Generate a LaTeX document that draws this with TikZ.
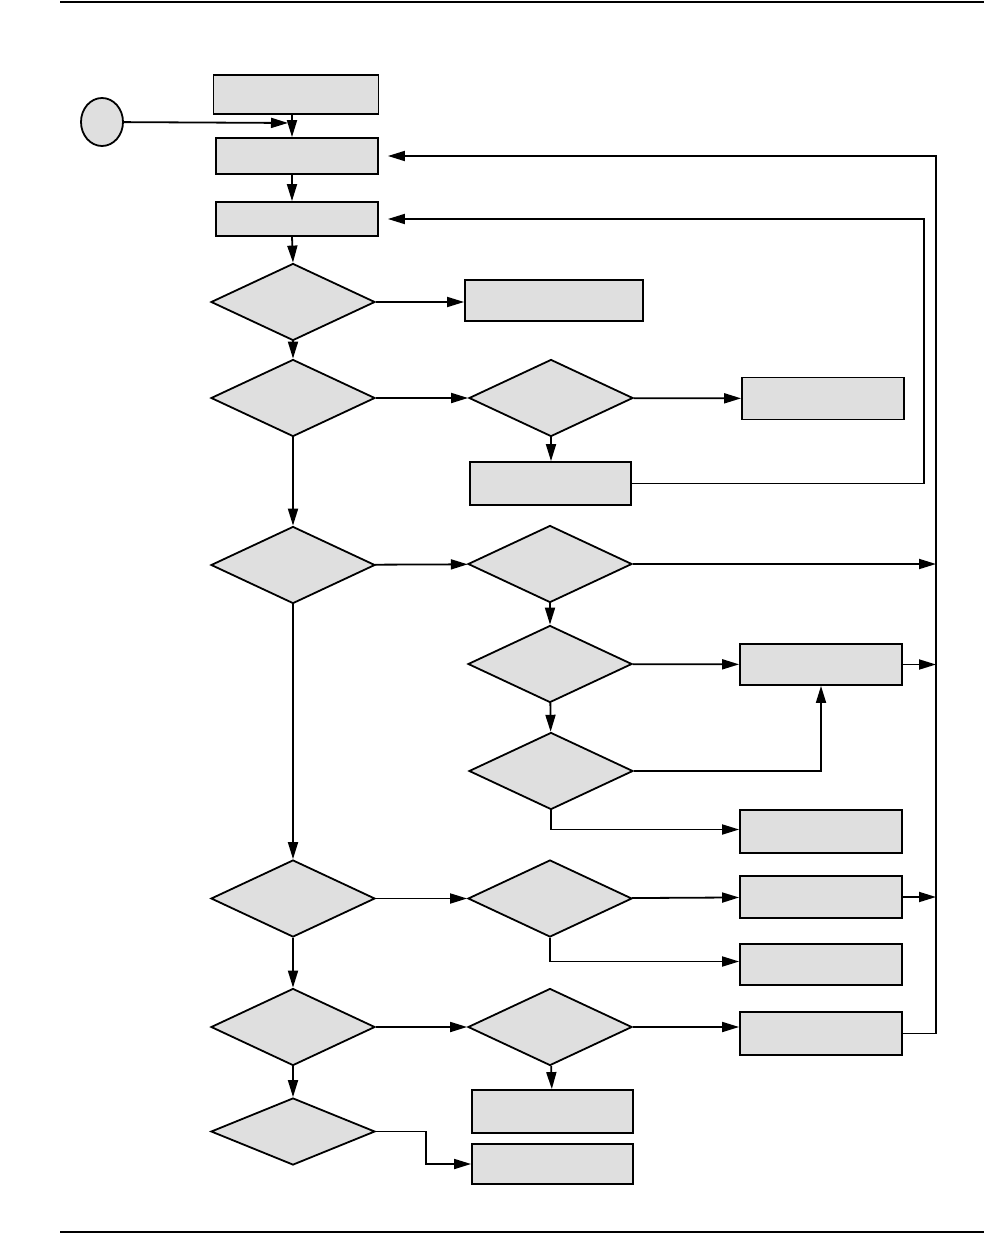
\documentclass[tikz,border=0pt]{standalone}
\usetikzlibrary{shapes.geometric, arrows.meta}

\begin{document}
\begin{tikzpicture}[x = 1pt, y = -1pt, line width = 1.8pt, >={Triangle[length=17pt, width=10pt]},
	box/.style = {draw, fill = gray!25, inner sep = 0pt, minimum width = 162pt, minimum height = 42pt},
	test/.style = {draw, diamond, fill = gray!25, inner sep = 0pt, minimum width = 164pt, minimum height = 77pt}]
			\useasboundingbox (0,0) rectangle (984,1233);
			% page rules
			\draw [line width = 2.2pt] (60,2) -- (984,2);
			\draw [line width = 2.2pt] (60,1232) -- (984,1232);
			% left column
			\node[draw, ellipse, fill = gray!25, inner sep = 0pt, minimum width = 42pt, minimum height = 48pt] (start) at (102,122) {};
			\node[box, minimum width = 165pt, minimum height = 39pt] (init) at (296,94.5) {};
			\node[box, minimum height = 36pt] (read) at (297,156) {};
			\node[box, minimum height = 34pt] (wait) at (297,219) {};
			\node[test] (q1) at (293,302) {};
			\node[test] (q2) at (293,398) {};
			\node[test] (q3) at (293,565) {};
			\node[test] (q4) at (293,898.5) {};
			\node[test] (q5) at (293,1027) {};
			\node[test, minimum height = 67pt] (q6) at (293,1131.5) {};
			% middle column
			\node[box, minimum width = 178pt, minimum height = 41pt] (err) at (554,300.5) {};
			\node[test] (q2a) at (551,398) {};
			\node[box, minimum width = 161pt, minimum height = 43pt] (retry) at (550.5,483.5) {};
			\node[test] (q3a) at (550,564) {};
			\node[test] (q3b) at (550,664) {};
			\node[test] (q3c) at (551,771) {};
			\node[test] (q4a) at (550,898.5) {};
			\node[test] (q5a) at (550,1027) {};
			\node[box, minimum width = 161pt, minimum height = 43pt] (stopa) at (552.5,1111.5) {};
			\node[box, minimum width = 161pt, minimum height = 40pt] (stopb) at (552.5,1164) {};
			% right column
			\node[box] (done) at (823,398.5) {};
			\node[box, minimum height = 41pt] (send) at (821,664.5) {};
			\node[box, minimum height = 43pt] (fail) at (821,831.5) {};
			\node[box] (ack) at (821,897) {};
			\node[box, minimum height = 41pt] (nak) at (821,964.5) {};
			\node[box, minimum height = 43pt] (next) at (821,1033.5) {};
			\coordinate (join) at (292,123);
			\coordinate (railB) at (936,0);
			\coordinate (railC) at (924,0);
			% main flow
			\draw [->, shorten >= 4pt] (start) -- (join);
			\draw [->] (init.south -| join) -- (read.north -| join);
			\draw [->] (read.south -| join) -- (wait.north -| join);
			\draw [->] (wait.south -| join) -- (q1.north);
			\draw [->] (q1.east) -- (q1.east -| err.west);
			\draw [->] (q1) -- (q2);
			\draw [->] (q2) -- (q2a);
			\draw [->] (q2a) -- (done);
			\draw [->] (q2a.south) -- (q2a.south |- retry.north);
			\draw [->, shorten >= 9pt] (retry.east) -| (railC |- wait.east) -- (wait.east);
			\draw [->] (q2) -- (q3);
			\draw [->] (q3) -- (q3a);
			\draw [->] (q3a.east) -- (q3a.east -| railB);
			\draw [->] (q3a) -- (q3b);
			\draw [->] (q3b) -- (send);
			\draw [->] (send.east) -- (send.east -| railB);
			\draw [->] (q3b) -- (q3c);
			\draw [->] (q3c.east) -| (send.south);
			\draw [->] (q3c.south) |- ([yshift=2pt]fail.west);
			\draw [->] (q3) -- (q4);
			\draw [->] (q4) -- (q4a);
			\draw [->] (q4a) -- (ack);
			\draw [->] (ack.east) -- (ack.east -| railB);
			\draw [->] (q4a.south) |- ([yshift=3pt]nak.west);
			\draw [->] (q4) -- (q5);
			\draw [->] (q5) -- (q5a);
			\draw [->] (q5a.east) -- (q5a.east -| next.west);
			\draw [->, shorten >= 9pt] (next.east) -| (railB |- read.east) -- (read.east);
			\draw [->] (q5a) -- (stopa);
			\draw [->] (q5) -- (q6);
			\draw [->] (q6.east) -- ++(50,0) |- (stopb.west);
			\end{tikzpicture}
\end{document}
